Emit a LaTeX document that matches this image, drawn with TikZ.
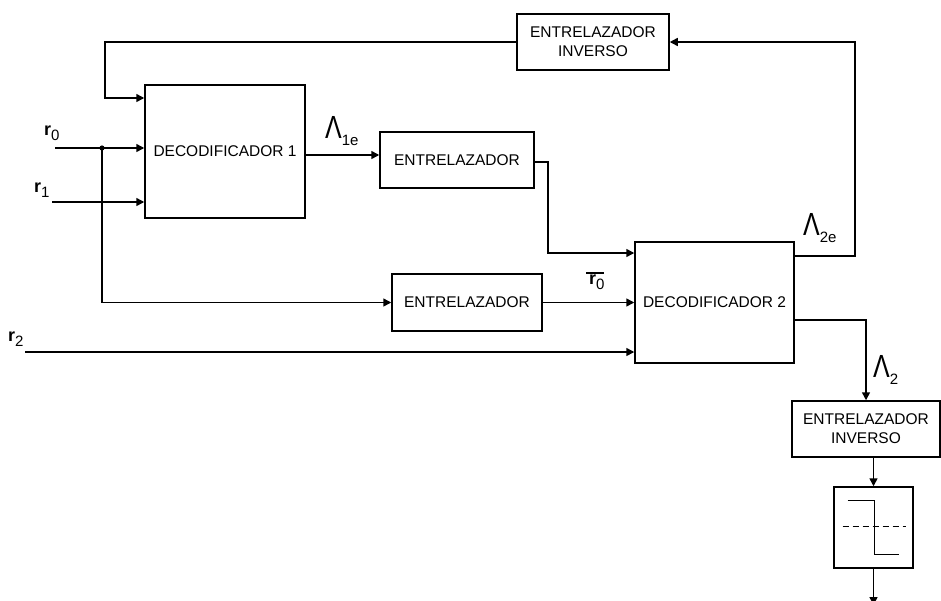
\documentclass[tikz,border=0pt]{standalone}
\usepackage{fontspec}
\setmainfont{Liberation Sans}
\usetikzlibrary{arrows.meta,calc}
\newcommand{\lamlbl}[1]{\scalebox{0.78}[1]{\fontsize{32}{32}\selectfont Λ}\raisebox{-7pt}{\fontsize{15}{15}\selectfont #1}}
\newcommand{\rlbl}[1]{{\fontsize{18}{18}\selectfont\bfseries r}\raisebox{-5pt}{\fontsize{15}{15}\selectfont #1}}
\begin{document}
\begin{tikzpicture}[x=1pt,y=-1pt,
  blk/.style={draw, line width=1.5pt, fill=white, font=\fontsize{15.5}{19}\selectfont, align=center, inner sep=0pt},
  arr/.style={-{Triangle[length=8pt,width=8pt]}, line width=1.5pt},
  ln/.style={line width=1.5pt},
  lbl/.style={inner sep=0pt, anchor=south west}]
\useasboundingbox (0,0) rectangle (941,600);

% blocks
\node[blk, minimum width=160, minimum height=133] (dec1) at (225,151.5) {DECODIFICADOR 1};
\node[blk, minimum width=154, minimum height=56] (ent1) at (457,160) {ENTRELAZADOR};
\node[blk, minimum width=152, minimum height=56] (inv1) at (593,42) {ENTRELAZADOR\\INVERSO};
\node[blk, minimum width=159, minimum height=121] (dec2) at (714.5,302.5) {DECODIFICADOR 2};
\node[blk, minimum width=150, minimum height=57] (ent2) at (467,302.5) {ENTRELAZADOR};
\node[blk, minimum width=148, minimum height=56] (inv2) at (866,429) {ENTRELAZADOR\\INVERSO};
\node[draw, line width=1.5pt, minimum width=79, minimum height=81, inner sep=0pt] (slc) at (873.5,527.5) {};

% slicer symbol
\draw[ln] ($(slc.center)+(-26,-27)$) -- ($(slc.center)+(1,-27)$) -- ($(slc.center)+(1,27)$) -- ($(slc.center)+(25,27)$);
\draw[ln, dash pattern=on 6pt off 4pt] ($(slc.center)+(-31,-1)$) -- ($(slc.center)+(32,-1)$);

% coordinates
\coordinate (fbL) at (105,42);
\coordinate (fbR) at (855,42);
\coordinate (r0s) at (55,148);
\coordinate (r1s) at (52,202);
\coordinate (r2s) at (25,352);
\coordinate (jn) at (102,148);
\coordinate (e1r) at (548,162);
\coordinate (d2o) at (866,320);
\coordinate (outE) at (873.5,605);

% connectors
\draw[arr] (inv1.west) -- (fbL) |- (dec1.west |- 0,98);
\draw[arr] (dec2.east |- 0,256) -| (fbR) -- (inv1.east);
\draw[arr] (r0s) -- (r0s -| dec1.west);
\fill (jn) circle (2.6);
\draw[arr] (r1s) -- (r1s -| dec1.west);
\draw[arr] (jn) |- (ent2.west);
\draw[arr] (dec1.east |- 0,155) -- (ent1.west |- 0,155);
\draw[arr] (ent1.east |- e1r) -- (e1r) |- (dec2.west |- 0,253);
\draw[arr] (ent2.east) -- (dec2.west |- ent2.east);
\draw[arr] (r2s) -- (r2s -| dec2.west);
\draw[arr] (dec2.east |- d2o) -- (d2o) -- (d2o |- inv2.north);
\draw[arr] (inv2.south -| slc.north) -- (slc.north);
\draw[arr] (slc.south) -- (outE);

% labels
\node[lbl] (lr0) at (44,141) {\rlbl{0}};
\node[lbl] (lr1) at (34,198) {\rlbl{1}};
\node[lbl] (lr2) at (8,347) {\rlbl{2}};
\node[lbl] (lr0b) at (589,290) {\rlbl{0}};
\draw[ln] ($(lr0b.north west)+(-3,-2)$) -- ($(lr0b.north west)+(15,-2)$);
\node[lbl] (l1e) at (325,146) {\lamlbl{1e}};
\node[lbl] (l2e) at (803,243) {\lamlbl{2e}};
\node[lbl] (l2) at (873,385) {\lamlbl{2}};
\end{tikzpicture}
\end{document}
